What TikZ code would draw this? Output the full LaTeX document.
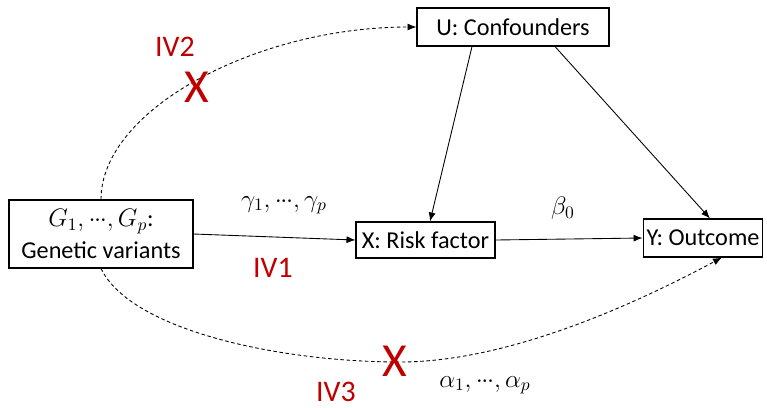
\documentclass[tikz,border=0pt]{standalone}
\usepackage{amsmath}
\usepackage{fontspec}
\setmainfont{Carlito}
\usepackage{tikz}
\usetikzlibrary{arrows.meta}
\definecolor{ivred}{RGB}{192,0,0}
\newcommand{\tdots}{\mathord{\cdot}\mkern-1mu\mathord{\cdot}\mkern-1mu\mathord{\cdot}}

\begin{document}
\begin{tikzpicture}[x=0.02cm, y=-0.02cm, >={Latex[length=1.8mm, width=1.4mm]}, line width=0.5pt,
    box/.style={draw, line width=0.6pt, inner sep=2pt, font=\fontsize{13.8}{18}\selectfont},
    ivlabel/.style={text=ivred, inner sep=1pt, font=\fontsize{17}{19}\selectfont},
    cross/.style={text=ivred, font=\fontsize{27}{29}\selectfont},
    coef/.style={font=\fontsize{14}{16}\selectfont}]
  \useasboundingbox (0,0) rectangle (767,407);

  % boxes
  \node[box, minimum width=3.68cm, minimum height=1.36cm, align=center] (G) at (101,234)
        {$G_1,\tdots,G_p$:\\Genetic variants};
  \node[box, minimum width=2.78cm, minimum height=0.72cm] (X) at (425.5,240) {X: Risk factor};
  \node[box, minimum width=2.38cm, minimum height=0.76cm] (Y) at (703,238) {Y: Outcome};
  \node[box, minimum width=3.84cm, minimum height=0.76cm] (U) at (513,27) {U: Confounders};

  % causal arrows
  \draw[->] (G.east) -- (X.west);
  \draw[->] (X.east) -- (Y.west);
  \draw[->] ([xshift=-0.82cm]U.south) -- ([xshift=0.09cm]X.north);
  \draw[->] ([xshift=0.84cm]U.south) -- ([xshift=0.14cm]Y.north);

  % violated paths (dashed)
  \draw[->, dash pattern=on 2pt off 1.5pt] (G.north)
        .. controls +(0,-90) and +(-160,0) .. (U.west);
  \coordinate (low) at (400,362);
  \draw[->, dash pattern=on 2pt off 1.5pt] (G.south)
        .. controls +(30,62) and +(-120,0) .. (low)
        .. controls +(120,0) and +(-62,33) .. ([xshift=0.38cm]Y.south);

  % coefficients
  \node[coef] (gam) at (284,205) {$\gamma_1,\tdots,\gamma_p$};
  \node[coef] (bet) at (563,208) {$\beta_0$};
  \node[coef] (alp) at (485,385) {$\alpha_1,\tdots,\alpha_p$};

  % IV assumptions
  \node[ivlabel] (iv1) at (273,268) {IV1};
  \node[ivlabel] (iv2) at (175,47) {IV2};
  \node[ivlabel] (iv3) at (336,392) {IV3};
  \node[cross] (x2) at (197,87) {X};
  \node[cross] (x3) at (395,361) {X};
\end{tikzpicture}
\end{document}
